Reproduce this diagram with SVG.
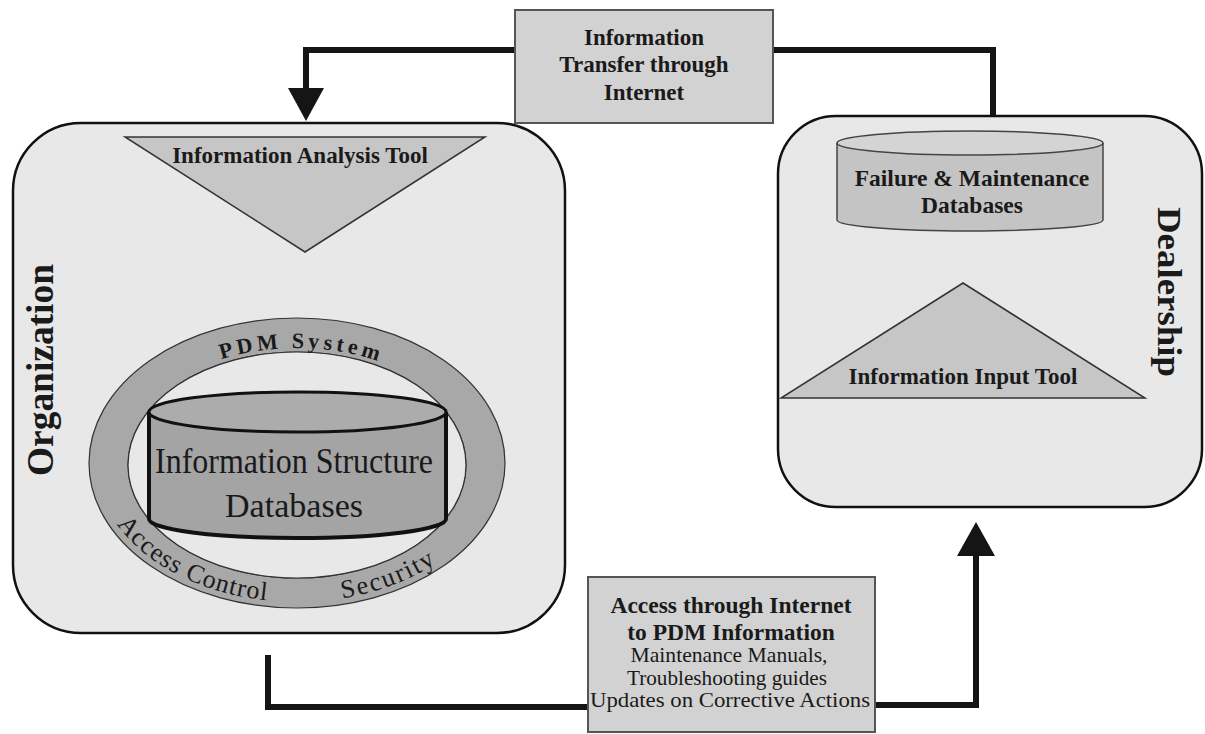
<svg xmlns="http://www.w3.org/2000/svg" width="1205" height="734" viewBox="0 0 1205 734">
<style>
.box{fill:#e8e8e8;stroke:#111;stroke-width:2.5}
.lbl{fill:#d2d2d2;stroke:#555;stroke-width:2}
.tri{fill:#c6c6c6;stroke:#333;stroke-width:1.5}
.b{font-family:"Liberation Serif",serif;font-weight:bold;fill:#1a1a1a;text-anchor:middle}
.r{font-family:"Liberation Serif",serif;fill:#1a1a1a;text-anchor:middle}
.con{fill:none;stroke:#151515;stroke-width:6}
.head{fill:#151515}
</style>
<defs>
<path id="topArc" d="M122,464 A175,116 0 0 1 472,464"/>
<path id="botArc" d="M97,464 A200,138 0 0 0 497,464"/>
</defs>

<g id="connectors">
<path class="con" d="M515,50 H306 V92"/>
<polygon class="head" points="288,88 324,88 306,121"/>
<path class="con" d="M773,50 H993 V117"/>
<path class="con" d="M306,252 V300"/>
<polygon class="head" points="291,297 323,297 307,314"/>
<path class="con" d="M963,283 V244"/>
<polygon class="head" points="954,248 972,248 963,233"/>
<path class="con" d="M268,655 V707 H588"/>
<path class="con" d="M875,705 H976 V552"/>
<polygon class="head" points="957,556 995,556 976,522"/>
</g>

<g id="organization">
<rect class="box" x="13" y="123" width="552" height="510" rx="68" ry="68"/>
<text class="b" font-size="37" transform="translate(53,370) rotate(-90)" textLength="212" lengthAdjust="spacingAndGlyphs">Organization</text>
</g>

<g id="analysis-tool">
<polygon class="tri" points="125,137 485,137 305,252"/>
<text class="b" font-size="23" x="300" y="163">Information Analysis Tool</text>
</g>

<g id="pdm-system">
<path fill="#a8a8a8" stroke="#333" stroke-width="1.2" fill-rule="evenodd" d="M89,463 A208,145 0 1 0 505,463 A208,145 0 1 0 89,463 Z M128,465 A169,113 0 1 1 466,465 A169,113 0 1 1 128,465 Z"/>
<ellipse cx="297" cy="465" rx="169" ry="113" fill="#e8e8e8" stroke="#333" stroke-width="1.2"/>
<text class="b" font-size="22" letter-spacing="4"><textPath href="#topArc" startOffset="51%">PDM System</textPath></text>
<text class="r" font-size="26" letter-spacing="1" style="text-anchor:start"><textPath href="#botArc" startOffset="12%">Access Control</textPath></text>
<text class="r" font-size="26" letter-spacing="2" style="text-anchor:start"><textPath href="#botArc" startOffset="58.5%">Security</textPath></text>
</g>

<g id="info-structure-db">
<path d="M149,412 V519 A148.5,19 0 0 0 446,519 V412" fill="#a4a4a4" stroke="#111" stroke-width="4"/>
<ellipse cx="297.5" cy="412" rx="148.5" ry="20" fill="#acacac" stroke="#111" stroke-width="3"/>
<text class="r" font-size="36" x="294" y="473" textLength="278" lengthAdjust="spacingAndGlyphs">Information Structure</text>
<text class="r" font-size="34" x="294" y="517" textLength="138" lengthAdjust="spacingAndGlyphs">Databases</text>
</g>

<g id="transfer-label">
<rect class="lbl" x="515" y="10" width="258" height="113"/>
<text class="b" font-size="23" x="644" y="45">Information</text>
<text class="b" font-size="23" x="644" y="72">Transfer through</text>
<text class="b" font-size="23" x="644" y="100">Internet</text>
</g>

<g id="dealership">
<rect class="box" x="778" y="116" width="424" height="391" rx="58" ry="58"/>
<text class="b" font-size="34" transform="translate(1158,292) rotate(90)" textLength="170" lengthAdjust="spacingAndGlyphs">Dealership</text>
</g>

<g id="failure-db">
<path d="M837,143 V220 A133,11 0 0 0 1103,220 V143" fill="#c4c4c4" stroke="#444" stroke-width="1.5"/>
<ellipse cx="970" cy="143" rx="133" ry="12" fill="#d4d4d4" stroke="#444" stroke-width="1.5"/>
<text class="b" font-size="23.5" x="972" y="186">Failure &amp; Maintenance</text>
<text class="b" font-size="23.5" x="972" y="213">Databases</text>
</g>

<g id="input-tool">
<polygon class="tri" points="963,283 1145,398 781,398"/>
<text class="b" font-size="23" x="963" y="384">Information Input Tool</text>
</g>

<g id="access-label">
<rect class="lbl" x="588" y="577" width="287" height="155"/>
<text class="b" font-size="23.5" x="731" y="613">Access through Internet</text>
<text class="b" font-size="23.5" x="731" y="640">to PDM Information</text>
<text class="r" font-size="21" x="729" y="662" textLength="197" lengthAdjust="spacingAndGlyphs">Maintenance Manuals,</text>
<text class="r" font-size="21" x="727" y="685" textLength="200" lengthAdjust="spacingAndGlyphs">Troubleshooting guides</text>
<text class="r" font-size="21" x="730" y="707" textLength="280" lengthAdjust="spacingAndGlyphs">Updates on Corrective Actions</text>
</g>
</svg>
